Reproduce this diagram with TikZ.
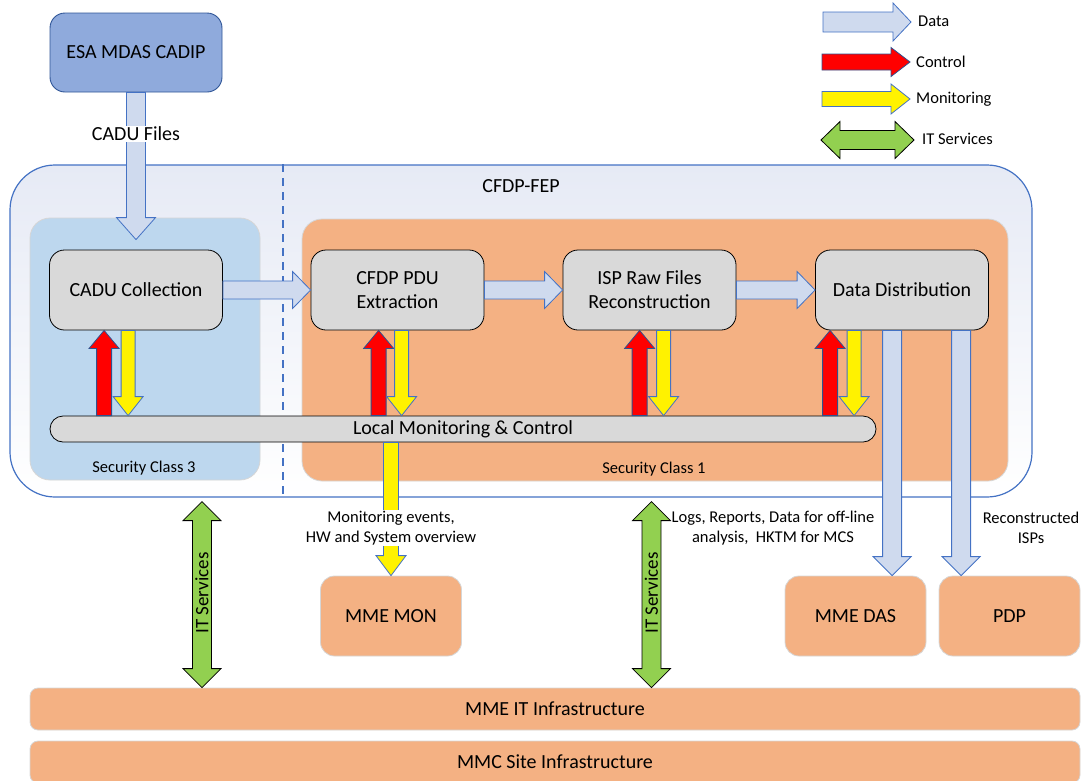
\documentclass[tikz,border=0pt]{standalone}
\usepackage{fontspec}
\setmainfont{Carlito}
\usetikzlibrary{calc}

\definecolor{outeredge}{HTML}{4472C4}
\definecolor{outerfill}{HTML}{E6EAF5}
\definecolor{secblue}{HTML}{BDD7EE}
\definecolor{secorange}{HTML}{F4B183}
\definecolor{procgray}{HTML}{D9D9D9}
\definecolor{cadipfill}{HTML}{8FAADC}
\definecolor{cadipedge}{HTML}{2F5597}
\definecolor{datafill}{HTML}{CFDAEE}
\definecolor{dataedge}{HTML}{4472C4}
\definecolor{ctrledge}{HTML}{2F528F}
\definecolor{itgreen}{HTML}{92D050}
\definecolor{lightedge}{HTML}{D6D6D6}

% Block arrow: #1 style, #2 start, #3 tip, #4 half shaft, #5 half head, #6 head length
\newcommand\blockarrow[6]{%
  \path #2 coordinate (ba-s) #3 coordinate (ba-e);
  \path ($(ba-e)!#6!(ba-s)$) coordinate (ba-h);
  \draw[#1] ($(ba-s)!#4!90:(ba-e)$) -- ($(ba-h)!#4!90:(ba-e)$)
    -- ($(ba-h)!#5!90:(ba-e)$) -- (ba-e) -- ($(ba-h)!#5!-90:(ba-e)$)
    -- ($(ba-h)!#4!-90:(ba-e)$) -- ($(ba-s)!#4!-90:(ba-e)$) -- cycle;
}
% Double-headed block arrow, same arguments
\newcommand\dblockarrow[6]{%
  \path #2 coordinate (ba-s) #3 coordinate (ba-e);
  \path ($(ba-s)!#6!(ba-e)$) coordinate (ba-h1) ($(ba-e)!#6!(ba-s)$) coordinate (ba-h2);
  \draw[#1] (ba-s) -- ($(ba-h1)!#5!-90:(ba-e)$) -- ($(ba-h1)!#4!-90:(ba-e)$)
    -- ($(ba-h2)!#4!-90:(ba-e)$) -- ($(ba-h2)!#5!-90:(ba-e)$) -- (ba-e)
    -- ($(ba-h2)!#5!90:(ba-e)$) -- ($(ba-h2)!#4!90:(ba-e)$)
    -- ($(ba-h1)!#4!90:(ba-e)$) -- ($(ba-h1)!#5!90:(ba-e)$) -- cycle;
}

\begin{document}
\begin{tikzpicture}[x=1pt,y=-1pt,
  every node/.style={font=\fontsize{20}{24}\selectfont, text=black},
  small/.style={font=\fontsize{16.5}{20}\selectfont},
  procbox/.style={draw=black, line width=0.8pt, fill=procgray, rounded corners=15,
    minimum width=173, minimum height=80, align=center},
  orangebox/.style={fill=secorange, draw=lightedge, line width=0.8pt, rounded corners=14,
    minimum width=141, minimum height=80},
  infrabar/.style={fill=secorange, draw=lightedge, line width=0.8pt, rounded corners=8,
    minimum width=1050, minimum height=42},
  dataarrow/.style={fill=datafill, draw=dataedge, line width=0.8pt, line join=miter},
  ctrlarrow/.style={fill=red, draw=ctrledge, line width=0.8pt, line join=miter},
  monarrow/.style={fill=yellow, draw=dataedge, line width=0.8pt, line join=miter},
  itarrow/.style={fill=itgreen, draw=black, line width=0.8pt, line join=miter},
  dashline/.style={draw=outeredge, line width=1.3pt, dash pattern=on 8pt off 6pt},
]
\useasboundingbox (0,0) rectangle (1084,780);
\clip (0,0) rectangle (1084,780);

% ---- source station ----
\node[fill=cadipfill, draw=cadipedge, line width=0.9pt, rounded corners=15,
  minimum width=172, minimum height=79] (cadip) at (136,52.5) {ESA MDAS CADIP};

% ---- CFDP-FEP frame ----
\node[draw=outeredge, line width=1.2pt, rounded corners=45, top color=outerfill,
  bottom color=white, minimum width=1022, minimum height=332] (fep) at (521,331) {};
\node (feplbl) at (521,186) {CFDP-FEP};
\coordinate (dashx) at (283,0);
\draw[dashline] (fep.north -| dashx) -- (fep.south -| dashx);

% ---- security zones ----
\node[fill=secblue, draw=lightedge, line width=0.8pt, rounded corners=20,
  minimum width=230, minimum height=262] (sec3) at (145,349) {};
\node[fill=secorange, draw=lightedge, line width=0.8pt, rounded corners=20,
  minimum width=706, minimum height=262] (sec1) at (655,350) {};
\node[small] (sec3lbl) at (144,468) {Security Class 3};
\node[small] (sec1lbl) at (654,469) {Security Class 1};

% ---- processing chain ----
\node[procbox] (cadu) at (136,290) {CADU Collection};
\node[procbox] (pdu) at (397.5,290) {CFDP PDU\\Extraction};
\node[procbox] (isp) at (649.5,290) {ISP Raw Files\\Reconstruction};
\node[procbox] (dist) at (902,290) {Data Distribution};

\node[draw=black, line width=0.8pt, fill=procgray, rounded corners=13, minimum width=826,
  minimum height=26, inner sep=0pt] (lmc) at (463,429) {Local Monitoring \& Control};

% ---- external systems ----
\node[orangebox] (mon) at (391,616) {MME MON};
\node[orangebox] (das) at (855.5,616) {MME DAS};
\node[orangebox] (pdp) at (1009.5,616) {PDP};
\node[infrabar] (itinf) at (555,709) {MME IT Infrastructure};
\node[infrabar] (site) at (555,762) {MMC Site Infrastructure};

% ---- data flow ----
\blockarrow{dataarrow}{(cadip.south)}{($(cadu.north)+(0,-10)$)}{9.5pt}{19.5pt}{22pt}
\node[fill=white, inner sep=1pt] (cadulbl) at (136,134) {CADU Files};
\blockarrow{dataarrow}{(cadu.east)}{(pdu.west)}{9pt}{18.5pt}{18pt}
\blockarrow{dataarrow}{(pdu.east)}{(isp.west)}{9pt}{18.5pt}{18pt}
\blockarrow{dataarrow}{(isp.east)}{(dist.west)}{9pt}{18.5pt}{18pt}

\coordinate (outa) at ($(dist.south west)+(77,0)$);
\coordinate (outb) at ($(dist.south west)+(146,0)$);
\blockarrow{dataarrow}{(outa)}{(outa |- das.north)}{9.5pt}{19pt}{19pt}
\blockarrow{dataarrow}{(outb)}{(outb |- pdp.north)}{9.5pt}{19pt}{19pt}

% ---- control / monitoring between each process and the local M&C ----
\foreach \bx/\rc/\yc in {cadu/55/79, pdu/68/91, isp/77/101, dist/15/39}{
  \coordinate (\bx-c) at ($(\bx.south west)+(\rc,0)$);
  \coordinate (\bx-m) at ($(\bx.south west)+(\yc,0)$);
  \blockarrow{ctrlarrow}{(\bx-c |- lmc.north)}{(\bx-c)}{7.5pt}{15pt}{18pt}
  \blockarrow{monarrow}{(\bx-m)}{(\bx-m |- lmc.north)}{7pt}{15pt}{19pt}
}

% ---- monitoring out to MME MON ----
\blockarrow{monarrow}{(mon.north |- lmc.south)}{(mon.north)}{7.5pt}{15pt}{20pt}
\node[small, fill=white, inner sep=1pt, align=center] (monlbl) at (391,528)
  {Monitoring events,\\HW and System overview};
\node[small, align=center] (daslbl) at (773,528)
  {Logs, Reports, Data for off-line\\analysis,\ \ HKTM for MCS};
\node[small, align=center] (pdplbl) at (1031,528) {Reconstructed\\ISPs};

% ---- IT services ----
\coordinate (itl) at (202,0);
\coordinate (itr) at (651.5,0);
\dblockarrow{itarrow}{($(itl |- fep.south)+(0,4)$)}{(itl |- itinf.north)}{9.5pt}{19pt}{19pt}
\dblockarrow{itarrow}{($(itr |- fep.south)+(0,4)$)}{(itr |- itinf.north)}{9.5pt}{19pt}{19pt}
\node[rotate=90, font=\fontsize{19}{22}\selectfont] (itllbl) at (202,593) {IT Services};
\node[rotate=90, font=\fontsize{19}{22}\selectfont] (itrlbl) at (651.5,593) {IT Services};

% ---- legend ----
\coordinate (lg1s) at (823,22);  \coordinate (lg1e) at (911,22);
\coordinate (lg2s) at (822,62);  \coordinate (lg2e) at (910,62);
\coordinate (lg3s) at (822,99);  \coordinate (lg3e) at (910,99);
\coordinate (lg4s) at (821,140); \coordinate (lg4e) at (914,140);
\blockarrow{dataarrow}{(lg1s)}{(lg1e)}{10pt}{19pt}{18pt}
\blockarrow{ctrlarrow}{(lg2s)}{(lg2e)}{8pt}{14.5pt}{19pt}
\blockarrow{monarrow}{(lg3s)}{(lg3e)}{7.5pt}{15pt}{19pt}
\dblockarrow{itarrow}{(lg4s)}{(lg4e)}{9.5pt}{18.5pt}{19pt}
\node[small, anchor=west, inner sep=0pt] (lg1) at (918,21) {Data};
\node[small, anchor=west, inner sep=0pt] (lg2) at (916,62) {Control};
\node[small, anchor=west, inner sep=0pt] (lg3) at (916,99) {Monitoring};
\node[small, anchor=west, inner sep=0pt] (lg4) at (922,139) {IT Services};
\end{tikzpicture}
\end{document}
